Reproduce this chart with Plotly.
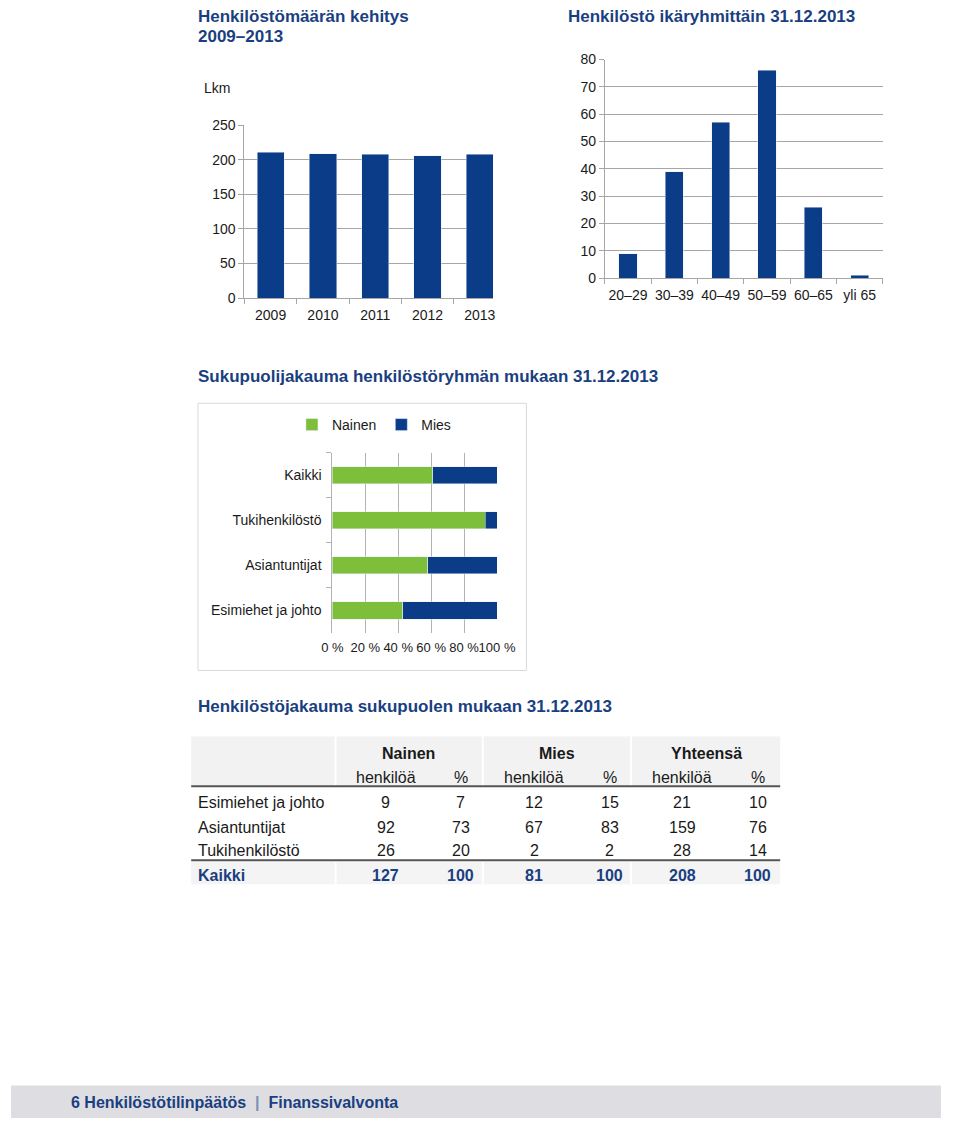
import plotly.graph_objects as go

W, H = 960, 1126


def px(x):
    return x / W


def py(y):
    return 1 - y / H


# ---------------- data ----------------
years = ["2009", "2010", "2011", "2012", "2013"]
headcount = [211, 209, 208, 206, 208]

age_groups = ["20–29", "30–39", "40–49", "50–59", "60–65", "yli 65"]
age_counts = [9, 39, 57, 76, 26, 1]

groups = ["Esimiehet ja johto", "Asiantuntijat", "Tukihenkilöstö", "Kaikki"]
nainen_n = [9, 92, 26, 127]
nainen_pct = [7, 73, 20, 100]
mies_n = [12, 67, 2, 81]
mies_pct = [15, 83, 2, 100]
yht_n = [21, 159, 28, 208]
yht_pct = [10, 76, 14, 100]

col_groups = ["Nainen", "Mies", "Yhteensä"]
sub_headers = ["henkilöä", "%"]

# shares of each group (100 % stacked bars)
nainen_share = [100 * n / t for n, t in zip(nainen_n, yht_n)]
mies_share = [100 * m / t for m, t in zip(mies_n, yht_n)]

# ---------------- style ----------------
NAVY = "#0b3c87"
GREEN = "#7dbe3a"
TITLE = "#1a3f80"
TXT = "#1a1a1a"
GRID = "#a6a6a6"
FONT = "Liberation Sans, Arial, sans-serif"

fig = go.Figure()

fig.add_trace(go.Bar(x=years, y=headcount, marker_color=NAVY, width=0.52,
                     showlegend=False, xaxis="x", yaxis="y", hoverinfo="skip"))
fig.add_trace(go.Bar(x=age_groups, y=age_counts, marker_color=NAVY, width=0.39,
                     showlegend=False, xaxis="x2", yaxis="y2", hoverinfo="skip"))
fig.add_trace(go.Bar(y=groups, x=nainen_share, orientation="h", name="Nainen",
                     marker_color=GREEN, width=0.38, xaxis="x3", yaxis="y3", hoverinfo="skip"))
fig.add_trace(go.Bar(y=groups, x=mies_share, orientation="h", name="Mies",
                     marker_color=NAVY, width=0.38, xaxis="x3", yaxis="y3", hoverinfo="skip"))

tickfont = dict(family=FONT, size=14, color=TXT)

layout = dict(
    width=W, height=H, autosize=False,
    margin=dict(l=0, r=0, t=0, b=0, pad=0),
    paper_bgcolor="white", plot_bgcolor="rgba(0,0,0,0)",
    font=dict(family=FONT, color=TXT),
    barmode="stack",
    showlegend=True,
    legend=dict(orientation="h", x=px(290), y=py(423), xanchor="left", yanchor="middle",
                font=dict(family=FONT, size=14, color=TXT), itemwidth=30,
                bgcolor="rgba(0,0,0,0)", traceorder="normal"),
    xaxis=dict(domain=[px(241), px(498)], range=[-0.5, 4.26], anchor="y", tickangle=0,
               showline=True, linecolor=GRID, ticks="outside", tickson="boundaries",
               ticklen=5, tickcolor=GRID, tickfont=tickfont, showgrid=False, fixedrange=True,
               ticklabelstandoff=4),
    yaxis=dict(domain=[py(294.3), py(119)], range=[0, 250], dtick=50, anchor="x",
               showline=True, linecolor=GRID, ticks="outside", ticklen=5, tickcolor=GRID,
               gridcolor=GRID, tickfont=tickfont, zeroline=False, fixedrange=True),
    xaxis2=dict(domain=[px(613), px(900)], anchor="y2", tickangle=0,
                showline=True, linecolor=GRID, ticks="outside", tickson="boundaries",
                ticklen=5, tickcolor=GRID, tickfont=tickfont, showgrid=False, fixedrange=True,
                ticklabelstandoff=4),
    yaxis2=dict(domain=[py(274), py(52.3)], range=[0, 80], dtick=10, anchor="x2",
                showline=True, linecolor=GRID, ticks="outside", ticklen=5, tickcolor=GRID,
                gridcolor=GRID, tickfont=tickfont, zeroline=False, fixedrange=True),
    xaxis3=dict(domain=[px(331.7), px(501.7)], range=[0, 100], dtick=20, ticksuffix=" %",
                anchor="y3", showline=False, ticks="", gridcolor="#b3b3b3", tickangle=0,
                tickfont=dict(family=FONT, size=13, color=TXT), zeroline=False, fixedrange=True,
                ticklabelstandoff=5),
    yaxis3=dict(domain=[py(634), py(451)], anchor="x3", categoryorder="array",
                categoryarray=groups, showline=True, linecolor="#b3b3b3",
                ticks="outside", tickson="boundaries", ticklen=5, tickcolor="#b3b3b3",
                tickfont=dict(family=FONT, size=14, color=TXT), showgrid=False, fixedrange=True,
                ticklabelstandoff=7),
)
fig.update_layout(**layout)

ann = []
shapes = []


def text(x, y, s, size=15, color=TXT, bold=False, anchor="center", family=FONT):
    if bold:
        s = "<b>" + s + "</b>"
    ann.append(dict(x=px(x), y=py(y), xref="paper", yref="paper", text=s, showarrow=False,
                    xanchor=anchor, yanchor="middle",
                    font=dict(family=family, size=size, color=color)))


# Titles
text(191, 9, "Henkilöstömäärän kehitys", 17, TITLE, True, "left")
text(191, 29, "2009–2013", 17, TITLE, True, "left")
text(573, 9, "Henkilöstö ikäryhmittäin 31.12.2013", 17, TITLE, True, "left")
text(213, 81, "Lkm", 14, TXT)
text(191, 374, "Sukupuolijakauma henkilöstöryhmän mukaan 31.12.2013", 17, TITLE, True, "left")
text(191, 709, "Henkilöstöjakauma sukupuolen mukaan 31.12.2013", 17, TITLE, True, "left")

# Chart 3 frame
shapes.append(dict(type="rect", xref="paper", yref="paper", x0=px(193), x1=px(532),
                   y0=py(672), y1=py(401), line=dict(color="#d9d9d9", width=1),
                   fillcolor="rgba(0,0,0,0)", layer="below"))

# ---------------- table ----------------
shapes.append(dict(type="rect", xref="paper", yref="paper", x0=px(186), x1=px(794),
                   y0=py(789), y1=py(739), line=dict(width=0), fillcolor="#f2f2f2", layer="below"))
shapes.append(dict(type="rect", xref="paper", yref="paper", x0=px(186), x1=px(794),
                   y0=py(889), y1=py(866), line=dict(width=0), fillcolor="#f4f4f4", layer="below"))
for sx in (335, 487, 640):
    shapes.append(dict(type="line", xref="paper", yref="paper", x0=px(sx), x1=px(sx),
                       y0=py(789), y1=py(739), line=dict(color="white", width=2)))
    shapes.append(dict(type="line", xref="paper", yref="paper", x0=px(sx), x1=px(sx),
                       y0=py(889), y1=py(866), line=dict(color="white", width=2)))
for ly in (789.5, 864.5):
    shapes.append(dict(type="line", xref="paper", yref="paper", x0=px(186), x1=px(794),
                       y0=py(ly), y1=py(ly), line=dict(color="#555555", width=2)))

group_x = [410, 564, 718]
n_x = [387, 540, 693]
p_x = [464, 618, 771]
for g, gx, nx, pxx in zip(col_groups, group_x, n_x, p_x):
    text(gx, 756, g, 16, TXT, True)
    text(nx, 781, sub_headers[0], 16)
    text(pxx, 781, sub_headers[1], 16)

row_y = [806, 831, 855, 880]
cols = [(nainen_n, n_x[0]), (nainen_pct, p_x[0]), (mies_n, n_x[1]), (mies_pct, p_x[1]),
        (yht_n, n_x[2]), (yht_pct, p_x[2])]
for i, (g, ry) in enumerate(zip(groups, row_y)):
    last = i == len(groups) - 1
    color = TITLE if last else TXT
    text(191, ry, g, 16, color, last, "left")
    for vals, cx in cols:
        text(cx, ry, str(vals[i]), 16, color, last)

# Footer
shapes.append(dict(type="rect", xref="paper", yref="paper", x0=0, x1=1,
                   y0=0, y1=py(1093), line=dict(width=0), fillcolor="#dedee2", layer="below"))
text(60, 1110, "6 Henkilöstötilinpäätös  <span style='color:#7a8fb5'>|</span>  Finanssivalvonta",
     16, TITLE, True, "left", "Liberation Sans Narrow, Liberation Sans, Arial, sans-serif")

fig.update_layout(annotations=ann, shapes=shapes)
fig.write_html(
    "out.html",
    config={"displayModeBar": False, "responsive": False},
    post_script=("document.documentElement.style.margin='0';"
                 "document.body.style.margin='0';document.body.style.padding='0';"
                 "document.body.style.overflow='hidden';"),
)
